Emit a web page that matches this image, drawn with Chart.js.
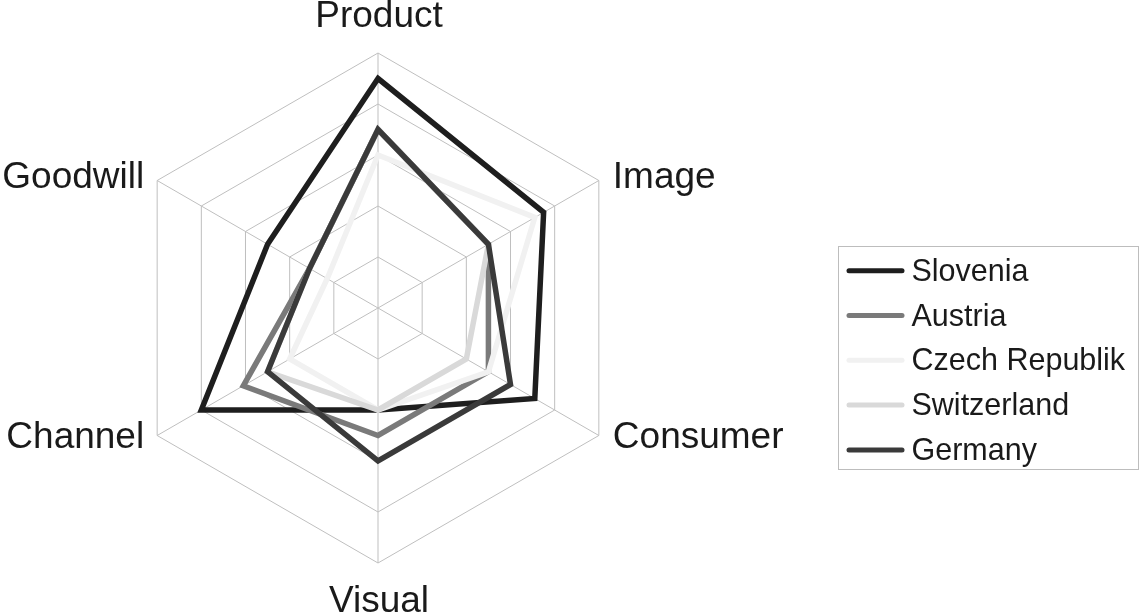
<!DOCTYPE html>
<html>
<head>
<meta charset="utf-8">
<script src="https://cdn.jsdelivr.net/npm/chart.js@4.4.1/dist/chart.umd.min.js"></script>
<style>
  html, body { margin: 0; padding: 0; background: #ffffff; }
  #wrap { position: relative; width: 1140px; height: 614px; }
</style>
</head>
<body>
<div id="wrap"><canvas id="c"></canvas></div>
<script>
// ---- data ----
const categories = ['Product', 'Image', 'Consumer', 'Visual', 'Channel', 'Goodwill'];
const seriesNames = ['Slovenia', 'Austria', 'Czech Republik', 'Switzerland', 'Germany'];
const slovenia    = [4.5, 3.75, 3.55, 2.0, 4.0, 2.5];
const austria     = [3.5, 2.5, 2.5, 2.5, 3.05, 1.55];
const czech       = [3.0, 3.55, 2.5, 2.0, 2.0, 1.15];
const switzerland = [3.5, 2.5, 2.0, 2.0, 2.5, 1.55];
const germany     = [3.5, 2.5, 3.0, 3.0, 2.5, 1.55];
const scaleTicks  = [0, 1, 2, 3, 4, 5];

// ---- styles ----
const seriesValues = [slovenia, austria, czech, switzerland, germany];
const seriesColors = ['#1e1e1e', '#7a7a7a', '#f1f1f1', '#d9d9d9', '#3a3a3a'];
const textColor = '#1a1a1a';
const gridColor = '#bfbfbf';

const datasets = seriesNames.map((name, i) => ({
  label: name,
  data: seriesValues[i],
  borderColor: seriesColors[i],
  backgroundColor: seriesColors[i],
  borderWidth: 5.5,
  borderJoinStyle: 'miter',
  fill: false,
  tension: 0,
  pointRadius: 0,
  pointHoverRadius: 0,
  order: seriesNames.length - i
}));

const axisLabelPlugin = {
  id: 'axisLabels',
  afterDraw(chart) {
    const ctx = chart.ctx;
    const scale = chart.scales.r;
    ctx.save();
    ctx.fillStyle = textColor;
    ctx.font = '37px "Liberation Sans", Arial, sans-serif';
    categories.forEach((lab, i) => {
      const p = scale.getPointPosition(i, scale.drawingArea);
      let x = p.x, y = p.y;
      ctx.textBaseline = 'alphabetic';
      if (i === 0) { ctx.textAlign = 'center'; x = p.x + 1; y = p.y - 26; }
      else if (i === 3) { ctx.textAlign = 'center'; x = p.x + 1; y = p.y + 48.5; }
      else if (i === 1) { ctx.textAlign = 'left'; x = p.x + 14; y = p.y + 7; }
      else if (i === 2) { ctx.textAlign = 'left'; x = p.x + 14; y = p.y + 12; }
      else if (i === 4) { ctx.textAlign = 'right'; x = p.x - 13; y = p.y + 12; }
      else { ctx.textAlign = 'right'; x = p.x - 13; y = p.y + 7; }
      ctx.fillText(lab, x, y);
    });
    ctx.restore();
  }
};

const legendPlugin = {
  id: 'boxLegend',
  afterDraw(chart) {
    const ctx = chart.ctx;
    const box = { x: 838.5, y: 246.5, w: 300, h: 223 };
    ctx.save();
    ctx.strokeStyle = '#bdbdbd';
    ctx.lineWidth = 1;
    ctx.strokeRect(box.x, box.y, box.w, box.h);
    ctx.font = '30.5px "Liberation Sans", Arial, sans-serif';
    ctx.textAlign = 'left';
    ctx.textBaseline = 'alphabetic';
    chart.data.datasets.forEach((ds, i) => {
      const cy = 270.7 + i * 44.8;
      ctx.strokeStyle = ds.borderColor;
      ctx.lineWidth = 5;
      ctx.lineCap = 'round';
      ctx.beginPath();
      ctx.moveTo(849, cy);
      ctx.lineTo(902, cy);
      ctx.stroke();
      ctx.fillStyle = textColor;
      ctx.fillText(ds.label, 911.5, cy + 10);
    });
    ctx.restore();
  }
};

new Chart(document.getElementById('c'), {
  type: 'radar',
  data: { labels: categories, datasets },
  options: {
    responsive: true,
    maintainAspectRatio: false,
    animation: false,
    devicePixelRatio: 1,
    layout: { padding: { left: 123, top: 53, right: 507, bottom: 51 } },
    plugins: { legend: { display: false }, tooltip: { enabled: false } },
    elements: { line: { borderJoinStyle: 'miter' } },
    scales: {
      r: {
        min: scaleTicks[0],
        max: scaleTicks[scaleTicks.length - 1],
        ticks: { display: false, stepSize: 1 },
        grid: { color: gridColor, lineWidth: 1 },
        angleLines: { color: gridColor, lineWidth: 1 },
        pointLabels: { display: false }
      }
    }
  },
  plugins: [axisLabelPlugin, legendPlugin]
});
</script>
</body>
</html>
